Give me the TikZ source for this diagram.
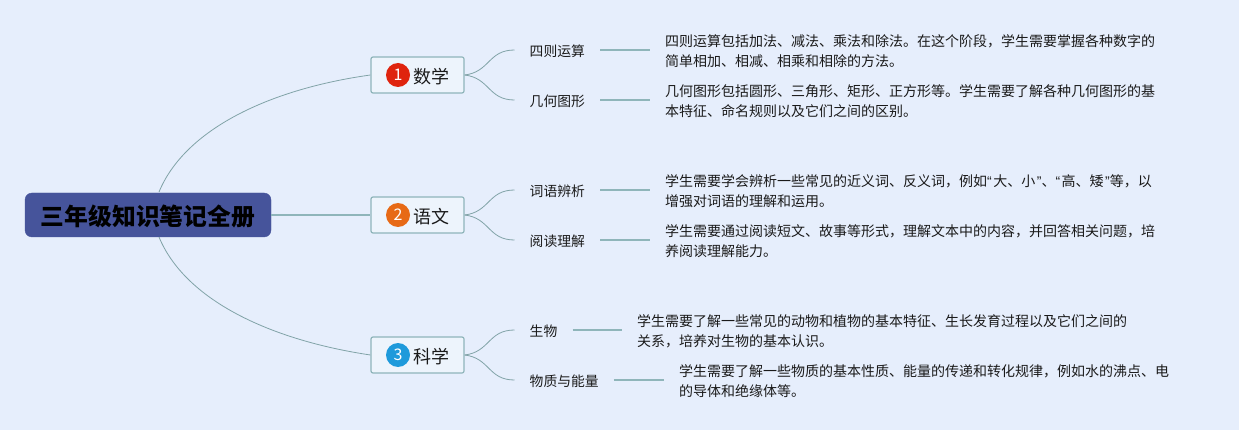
\documentclass[tikz,border=0pt]{standalone}
\usepackage{fontspec}
\setmainfont{Noto Sans CJK SC}
\newfontfamily\quotefont{Liberation Sans}
\newcommand{\openq}{{\quotefont “}\kern1.5pt}
\newcommand{\closeq}{\kern1.5pt{\quotefont ”}}
\newcommand{\dropby}[2]{\raisebox{-#1pt}[\height][\depth]{#2}}
\definecolor{pagebg}{HTML}{E6EEFC}
\definecolor{rootblue}{HTML}{46549B}
\definecolor{linecol}{HTML}{8FB5BA}
\definecolor{boxfill}{HTML}{EDF4FC}
\definecolor{inkcol}{HTML}{1A1A1A}
\definecolor{redbadge}{HTML}{DF240E}
\definecolor{orangebadge}{HTML}{E76A16}
\definecolor{bluebadge}{HTML}{1E9ADB}
\tikzset{
  rootnode/.style={fill=rootblue,draw=rootblue,rounded corners=7pt,minimum width=246pt,minimum height=44pt,inner sep=0pt,font=\fontsize{23.8}{28}\selectfont\bfseries,text=black},
  branchnode/.style={draw=linecol,fill=boxfill,line width=1.2pt,rounded corners=2pt,text width=63pt,align=right,inner xsep=15pt,minimum height=36pt,inner ysep=0pt,text=inkcol,font=\fontsize{18}{21}\selectfont},
  badge/.style={circle,minimum size=24pt,inner sep=0pt,text=white,font=\fontsize{16}{18}\selectfont},
  leafnode/.style={anchor=west,inner xsep=15pt,inner ysep=0pt,text=inkcol,font=\fontsize{13.8}{16}\selectfont},
  detailnode/.style={anchor=west,inner sep=0pt,align=left,text=inkcol,font=\fontsize{14}{20}\selectfont},
  thinline/.style={draw=linecol!90!black,line width=0.8pt},
  thickline/.style={draw=linecol,line width=1.4pt}
}
\begin{document}
\begin{tikzpicture}[x=1pt,y=-1pt]
        % background
        \fill[pagebg] (0,0) rectangle (1239,430);
        \useasboundingbox (0,0) rectangle (1239,430);
        % main nodes
        \node[rootnode] (root) at (148,215) {\dropby{1.5}{三年级知识笔记全册}};
        \coordinate (rootup) at (159,192);
        \coordinate (rootdown) at (159,237);
        \node[branchnode] (math) at (417.5,75) {\dropby{1.5}{数学}};
        \node[branchnode] (lang) at (417.5,215) {\dropby{1.5}{语文}};
        \node[branchnode] (sci) at (417.5,355) {\dropby{1.5}{科学}};
        % number badges
        \node[badge,fill=redbadge] (one) at (398,75) {1};
        \node[badge,fill=orangebadge] (two) at (398,215) {2};
        \node[badge,fill=bluebadge] (three) at (398,355) {3};
        % leaves
        \node[leafnode] (arith) at (514.5,50) {\dropby{1}{四则运算}};
        \node[leafnode] (geom) at (514.5,100) {\dropby{1}{几何图形}};
        \node[leafnode] (words) at (514.5,190) {\dropby{1}{词语辨析}};
        \node[leafnode] (read) at (514.5,240) {\dropby{1}{阅读理解}};
        \node[leafnode] (bio) at (514.5,330) {\dropby{1}{生物}};
        \node[leafnode] (matter) at (514.5,380) {\dropby{1}{物质与能量}};
        % details
        \node[detailnode] (arithtext) at (665,51) {四则运算包括加法、减法、乘法和除法。在这个阶段，学生需要掌握各种数字的\\简单相加、相减、相乘和相除的方法。};
        \node[detailnode] (geomtext) at (665,101) {几何图形包括圆形、三角形、矩形、正方形等。学生需要了解各种几何图形的基\\本特征、命名规则以及它们之间的区别。};
        \node[detailnode] (wordstext) at (665,191) {学生需要学会辨析一些常见的近义词、反义词，例如\openq 大、小\closeq 、\openq 高、矮\closeq 等，以\\增强对词语的理解和运用。};
        \node[detailnode] (readtext) at (665,241) {学生需要通过阅读短文、故事等形式，理解文本中的内容，并回答相关问题，培\\养阅读理解能力。};
        \node[detailnode] (biotext) at (637,331) {学生需要了解一些常见的动物和植物的基本特征、生长发育过程以及它们之间的\\关系，培养对生物的基本认识。};
        \node[detailnode] (mattertext) at (679,381) {学生需要了解一些物质的基本性质、能量的传递和转化规律，例如水的沸点、电\\的导体和绝缘体等。};
        % root to branches
        \draw[thinline] (rootup) .. controls (185,129) and (270,89) .. (math.west);
        \draw[thickline] (root.east) -- (lang.west);
        \draw[thinline] (rootdown) .. controls (185,300) and (270,340) .. (sci.west);
        % branches to leaves
        \draw[thinline] (math.east) .. controls (490,72) and (488,50) .. (arith.west);
        \draw[thinline] (math.east) .. controls (490,78) and (488,100) .. (geom.west);
        \draw[thinline] (lang.east) .. controls (490,212) and (488,190) .. (words.west);
        \draw[thinline] (lang.east) .. controls (490,218) and (488,240) .. (read.west);
        \draw[thinline] (sci.east) .. controls (490,352) and (488,330) .. (bio.west);
        \draw[thinline] (sci.east) .. controls (490,358) and (488,380) .. (matter.west);
        % leaves to details
        \draw[thickline,shorten >=15pt] (arith.east) -- (arithtext.west |- arith.east);
        \draw[thickline,shorten >=15pt] (geom.east) -- (geomtext.west |- geom.east);
        \draw[thickline,shorten >=15pt] (words.east) -- (wordstext.west |- words.east);
        \draw[thickline,shorten >=15pt] (read.east) -- (readtext.west |- read.east);
        \draw[thickline,shorten >=15pt] (bio.east) -- (biotext.west |- bio.east);
        \draw[thickline,shorten >=15pt] (matter.east) -- (mattertext.west |- matter.east);
\end{tikzpicture}
\end{document}
